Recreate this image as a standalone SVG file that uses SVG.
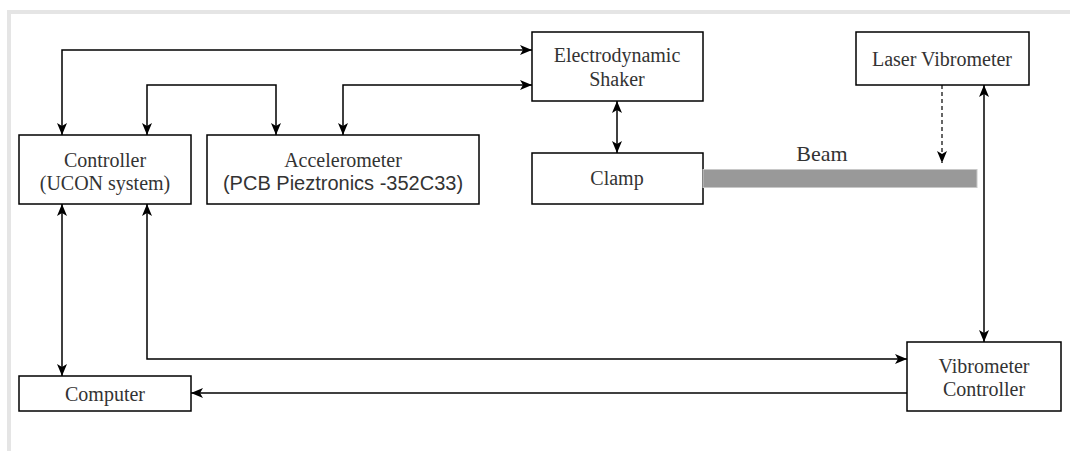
<svg xmlns="http://www.w3.org/2000/svg" width="1070" height="451" viewBox="0 0 1070 451">
<style>
.box{fill:#fff;stroke:#000;stroke-width:1.5}
.t{font-family:"Liberation Serif","Times New Roman",serif;font-size:20px;fill:#333;text-anchor:middle}
.s{font-family:"Liberation Sans",Arial,sans-serif;font-size:20px;fill:#333;text-anchor:middle}
.c{fill:none;stroke:#000;stroke-width:1.5}
.d{fill:none;stroke:#000;stroke-width:1.2;stroke-dasharray:4 3}
</style>
<defs>
<marker id="a" markerUnits="userSpaceOnUse" markerWidth="13" markerHeight="11" refX="12" refY="5.5" orient="auto-start-reverse" viewBox="0 0 13 11">
<path d="M0,0.5 L12,5.5 L0,10.5 L3,5.5 z" fill="#000"/>
</marker>
</defs>
<rect x="7" y="10" width="1063" height="4" fill="#e5e5e5"/>
<rect x="7" y="10" width="4" height="441" fill="#e5e5e5"/>
<g id="connectors">
<path class="c" d="M62,135 L62,50 L532,50" marker-start="url(#a)" marker-end="url(#a)"/>
<path class="c" d="M147,135 L147,85 L276,85 L276,135" marker-start="url(#a)" marker-end="url(#a)"/>
<path class="c" d="M343,135 L343,85 L532,85" marker-start="url(#a)" marker-end="url(#a)"/>
<path class="c" d="M617,101 L617,153" marker-start="url(#a)" marker-end="url(#a)"/>
<path class="d" d="M942,85 L942,163" marker-end="url(#a)"/>
<path class="c" d="M984,85 L984,342" marker-start="url(#a)" marker-end="url(#a)"/>
<path class="c" d="M62,204 L62,376" marker-start="url(#a)" marker-end="url(#a)"/>
<path class="c" d="M147,204 L147,359 L907,359" marker-start="url(#a)" marker-end="url(#a)"/>
<path class="c" d="M907,393 L191,393" marker-end="url(#a)"/>
</g>
<g id="controller"><rect class="box" x="19" y="135" width="172" height="69"/><text class="t" x="105" y="167">Controller</text><text class="t" x="105" y="190">(UCON system)</text></g>
<g id="accelerometer"><rect class="box" x="207" y="135" width="272" height="69"/><text class="t" x="343" y="167">Accelerometer</text><text class="s" x="343" y="190">(PCB Pieztronics -352C33)</text></g>
<g id="shaker"><rect class="box" x="532" y="32" width="171" height="69"/><text class="t" x="617" y="62">Electrodynamic</text><text class="t" x="617" y="86">Shaker</text></g>
<g id="clamp"><rect class="box" x="532" y="153" width="171" height="51"/><text class="t" x="617" y="185">Clamp</text></g>
<g id="beam"><rect x="703" y="169.5" width="274" height="18" fill="#999" stroke="#c8c8c8" stroke-width="1"/><text class="t" x="822" y="161" style="font-size:22px">Beam</text></g>
<g id="laser"><rect class="box" x="856" y="32" width="173" height="53"/><text class="t" x="942" y="66">Laser Vibrometer</text></g>
<g id="vibcontroller"><rect class="box" x="907" y="342" width="154" height="69"/><text class="t" x="984" y="373">Vibrometer</text><text class="t" x="984" y="396">Controller</text></g>
<g id="computer"><rect class="box" x="19" y="376" width="172" height="35"/><text class="t" x="105" y="401">Computer</text></g>
</svg>
